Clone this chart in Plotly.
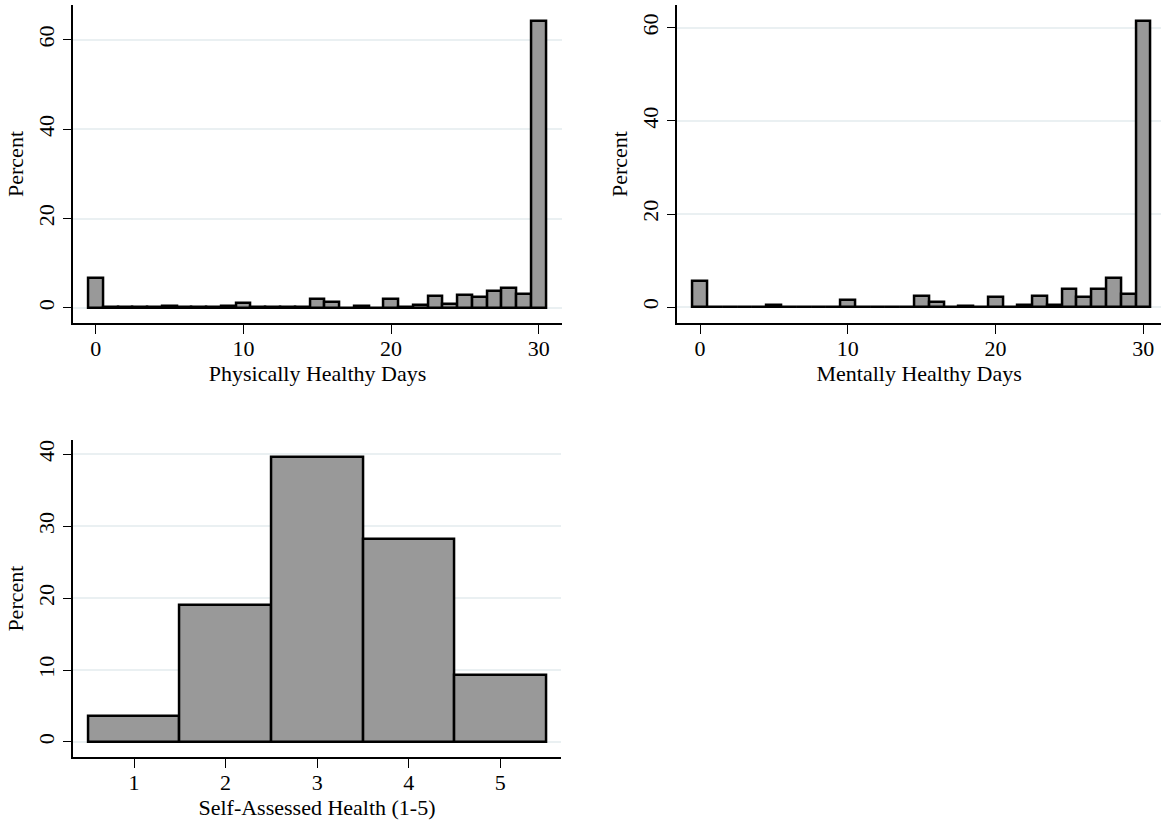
import plotly.graph_objects as go

# ---- data (percent of respondents) ----
days = list(range(31))
phys_pct = [6.6, 0.2, 0.3, 0.2, 0.2, 0.4, 0.2, 0.2, 0.2, 0.4,
            1.1, 0.2, 0.2, 0.2, 0.2, 1.9, 1.3, 0.1, 0.4, 0.1,
            1.9, 0.2, 0.6, 2.6, 0.8, 3.0, 2.5, 3.8, 4.5, 3.1, 64.2]
ment_pct = [5.7, 0.1, 0.1, 0.1, 0.1, 0.5, 0.1, 0.1, 0.1, 0.1,
            1.5, 0.1, 0.1, 0.1, 0.1, 2.3, 1.1, 0.1, 0.3, 0.1,
            2.2, 0.1, 0.5, 2.3, 0.5, 3.8, 2.1, 4.0, 6.3, 2.8, 61.4]
sah_levels = [1, 2, 3, 4, 5]
sah_pct = [3.6, 19.0, 39.7, 28.2, 9.3]

days_ticks = [0, 10, 20, 30]
days_yticks = [0, 20, 40, 60]
sah_yticks = [0, 10, 20, 30, 40]

W, H = 1161, 825
FONT = "Liberation Serif"
FS = 22
FILL = "#999999"
GRID = "#eaf0f2"

fig = go.Figure()

def add_bars(x, y, xa, ya):
    fig.add_trace(go.Bar(
        x=x, y=y, width=1, xaxis=xa, yaxis=ya,
        marker=dict(color=FILL, line=dict(color="black", width=2.5)),
        showlegend=False,
    ))

add_bars(days, phys_pct, "x", "y")
add_bars(days, ment_pct, "x2", "y2")
add_bars(sah_levels, sah_pct, "x3", "y3")

def px_x(a, b):
    return [a / W, min(b / W, 1.0)]

def px_y(top, bottom):
    return [1 - bottom / H, 1 - top / H]

axis_common = dict(
    showline=True, linecolor="black", linewidth=1.5,
    ticks="outside", ticklen=9, tickwidth=1.3, tickcolor="black",
    tickfont=dict(family=FONT, size=FS, color="black"),
    zeroline=False, mirror=False,
)

xcommon = dict(axis_common, showgrid=False, ticklabelstandoff=-4)
ycommon = dict(axis_common, showgrid=True, gridcolor=GRID, gridwidth=1.5,
               tickangle=-90)

def xt(text):
    return dict(text=text, standoff=0, font=dict(family=FONT, size=FS))

def yt(text):
    return dict(text=text, standoff=4, font=dict(family=FONT, size=FS))

fig.update_layout(
    width=W, height=H,
    margin=dict(l=0, r=0, t=0, b=0),
    paper_bgcolor="white", plot_bgcolor="white",
    font=dict(family=FONT, size=FS, color="black"),
    bargap=0,
    xaxis=dict(xcommon, domain=px_x(73.3, 561.7), range=[-1.52, 31.56],
               tickvals=days_ticks, anchor="y",
               title=xt("Physically Healthy Days")),
    yaxis=dict(ycommon, domain=px_y(5, 323), range=[-3.36, 67.8],
               tickvals=days_yticks, anchor="x", title=yt("Percent")),
    xaxis2=dict(xcommon, domain=px_x(677.3, 1161), range=[-1.54, 31.2],
                tickvals=days_ticks, anchor="y2",
                title=xt("Mentally Healthy Days")),
    yaxis2=dict(ycommon, domain=px_y(5, 323), range=[-3.4, 64.9],
                tickvals=days_yticks, anchor="x2", title=yt("Percent")),
    xaxis3=dict(xcommon, domain=px_x(73.3, 560.7), range=[0.337, 5.66],
                tickvals=sah_levels, anchor="y3",
                title=xt("Self-Assessed Health (1-5)")),
    yaxis3=dict(ycommon, domain=px_y(440, 757.3), range=[-2.13, 42.0],
                tickvals=sah_yticks, anchor="x3", title=yt("Percent")),
)

fig.write_html("out.html")
